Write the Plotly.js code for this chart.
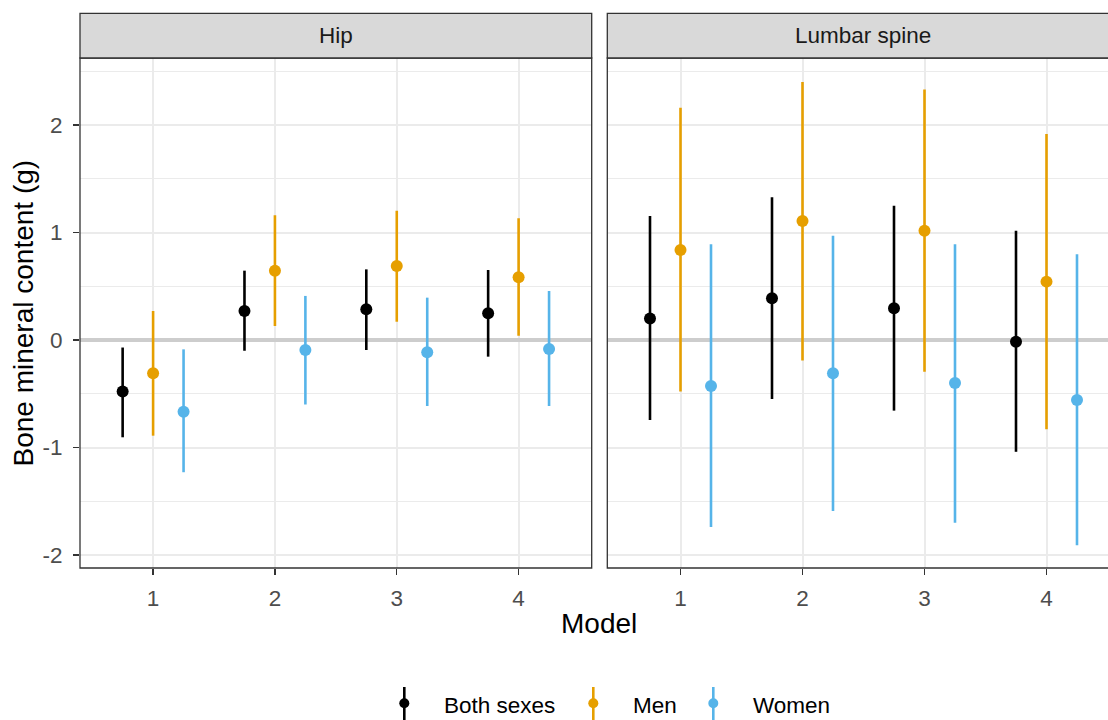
<!DOCTYPE html>
<html><head><meta charset="utf-8">
<script src="https://cdn.plot.ly/plotly-3.0.1.min.js"></script>
<style>html,body{margin:0;padding:0;background:#fff}#chart{width:1108px;height:720px}</style>
</head><body><div id="chart"></div>
<script>
// ---------- data ----------
const models = [1, 2, 3, 4];
const modelLabels = ['1', '2', '3', '4'];
const siteNames = ['Hip', 'Lumbar spine'];
const groupNames = ['Both sexes', 'Men', 'Women'];
const yTicks = [-2, -1, 0, 1, 2];
const yTickLabels = ['-2', '-1', '0', '1', '2'];

// Hip
const hipBothEst  = [-0.48, 0.27, 0.285, 0.248];
const hipBothLo   = [-0.905, -0.10, -0.093, -0.155];
const hipBothHi   = [-0.07, 0.645, 0.657, 0.651];
const hipMenEst   = [-0.31, 0.645, 0.688, 0.583];
const hipMenLo    = [-0.89, 0.13, 0.170, 0.040];
const hipMenHi    = [0.27, 1.16, 1.203, 1.132];
const hipWomenEst = [-0.667, -0.093, -0.115, -0.084];
const hipWomenLo  = [-1.23, -0.60, -0.614, -0.614];
const hipWomenHi  = [-0.087, 0.41, 0.394, 0.456];

// Lumbar spine
const lsBothEst  = [0.20, 0.388, 0.295, -0.016];
const lsBothLo   = [-0.744, -0.549, -0.657, -1.04];
const lsBothHi   = [1.153, 1.327, 1.25, 1.017];
const lsMenEst   = [0.837, 1.107, 1.017, 0.543];
const lsMenLo    = [-0.48, -0.19, -0.295, -0.83];
const lsMenHi    = [2.16, 2.40, 2.33, 1.916];
const lsWomenEst = [-0.428, -0.31, -0.40, -0.558];
const lsWomenLo  = [-1.74, -1.59, -1.70, -1.91];
const lsWomenHi  = [0.89, 0.97, 0.89, 0.797];

// ---------- styling ----------
const colors = ['#000000', '#E69F00', '#56B4E9'];
const dodge = [-0.25, 0, 0.25];
const FONT = 'Liberation Sans, Arial, Helvetica, sans-serif';

const W = 1108, H = 720, ML = 80, MR = 0, MT = 58, MB = 152;
const PW = W - ML - MR, PH = H - MT - MB;
const px = v => (v - ML) / PW;          // pixel -> paper (x)
const py = v => (H - MB - v) / PH;      // pixel -> paper (y)

const leftDomain = [0, 511.7 / PW];
const rightDomain = [527.3 / PW, 1];
const xRangeLeft = [0.4, 4.6];
const xRangeRight = [0.4, 0.4 + (W - ML - 527.3) / 122];
const yRange = [(H - MB - 340) / -107.5, (340 - MT) / 107.5];

const siteData = [
  [[hipBothEst, hipBothLo, hipBothHi], [hipMenEst, hipMenLo, hipMenHi], [hipWomenEst, hipWomenLo, hipWomenHi]],
  [[lsBothEst, lsBothLo, lsBothHi], [lsMenEst, lsMenLo, lsMenHi], [lsWomenEst, lsWomenLo, lsWomenHi]]
];

const traces = [];
siteData.forEach((groups, s) => {
  groups.forEach(([est, lo, hi], g) => {
    traces.push({
      type: 'scatter', mode: 'markers',
      name: groupNames[g], showlegend: false,
      xaxis: s === 0 ? 'x' : 'x2', yaxis: s === 0 ? 'y' : 'y2',
      x: models.map(m => m + dodge[g]),
      y: est,
      marker: {color: colors[g], size: 12},
      error_y: {
        type: 'data', symmetric: false,
        array: hi.map((h, i) => h - est[i]),
        arrayminus: lo.map((l, i) => est[i] - l),
        color: colors[g], thickness: 2.6, width: 0
      },
      hoverinfo: 'skip'
    });
  });
});

const xBase = {
  tickvals: models, ticktext: modelLabels,
  ticks: 'outside', ticklen: 6, tickwidth: 1.3, tickcolor: '#333333',
  tickfont: {family: FONT, size: 22.5, color: '#4D4D4D'},
  showgrid: true, gridcolor: '#EBEBEB', gridwidth: 2,
  zeroline: false, showline: false, fixedrange: true, ticklabelstandoff: 4
};
const yBase = {
  range: yRange, tickvals: yTicks, ticktext: yTickLabels,
  ticks: 'outside', ticklen: 6, tickwidth: 1.3, tickcolor: '#333333',
  tickfont: {family: FONT, size: 22.5, color: '#4D4D4D'},
  showgrid: true, gridcolor: '#EBEBEB', gridwidth: 2,
  minor: {tickvals: [-1.5, -0.5, 0.5, 1.5, 2.5], showgrid: true, gridcolor: '#EBEBEB', gridwidth: 1, ticks: ''},
  zeroline: true, zerolinecolor: '#CDCDCD', zerolinewidth: 4,
  showline: false, fixedrange: true, ticklabelstandoff: 6
};

const shapes = [
  // panel borders
  {type: 'rect', xref: 'x domain', yref: 'y domain', x0: 0, x1: 1, y0: 0, y1: 1,
   line: {color: '#333333', width: 1.3}, fillcolor: 'rgba(0,0,0,0)', layer: 'above'},
  {type: 'rect', xref: 'x2 domain', yref: 'y2 domain', x0: 0, x1: 1.02, y0: 0, y1: 1,
   line: {color: '#333333', width: 1.3}, fillcolor: 'rgba(0,0,0,0)', layer: 'above'},
  // strips
  {type: 'rect', xref: 'x domain', yref: 'paper', x0: 0, x1: 1, y0: 1, y1: py(13.3),
   line: {color: '#333333', width: 1.3}, fillcolor: '#D9D9D9'},
  {type: 'rect', xref: 'x2 domain', yref: 'paper', x0: 0, x1: 1.02, y0: 1, y1: py(13.3),
   line: {color: '#333333', width: 1.3}, fillcolor: '#D9D9D9'}
];

const annotations = [
  {text: siteNames[0], xref: 'paper', yref: 'paper', x: px(335.8), y: py(36), xanchor: 'center', yanchor: 'middle',
   showarrow: false, font: {family: FONT, size: 22.5, color: '#1A1A1A'}},
  {text: siteNames[1], xref: 'paper', yref: 'paper', x: px(862.5), y: py(36), xanchor: 'center', yanchor: 'middle',
   showarrow: false, font: {family: FONT, size: 22.5, color: '#1A1A1A'}},
  {text: 'Model', xref: 'paper', yref: 'paper', x: px(599), y: py(623.5), xanchor: 'center', yanchor: 'middle',
   showarrow: false, font: {family: FONT, size: 28, color: '#000000'}},
  {text: 'Bone mineral content (g)', xref: 'paper', yref: 'paper', x: px(23), y: py(313.5), xanchor: 'center', yanchor: 'middle',
   textangle: -90, showarrow: false, font: {family: FONT, size: 28, color: '#000000'}}
];

// legend (drawn manually to show point-range glyphs)
const legGlyphX = [404.3, 593.3, 713.3];
const legTextX = [443, 631.7, 751.7];
groupNames.forEach((name, g) => {
  shapes.push({type: 'line', xref: 'paper', yref: 'paper', x0: px(legGlyphX[g]), x1: px(legGlyphX[g]),
    y0: py(687), y1: py(724), line: {color: colors[g], width: 2.6}});
  shapes.push({type: 'circle', xref: 'paper', yref: 'paper', xsizemode: 'pixel', ysizemode: 'pixel',
    xanchor: px(legGlyphX[g]), yanchor: py(703.3), x0: -5, x1: 5, y0: -5, y1: 5,
    line: {width: 0}, fillcolor: colors[g]});
  annotations.push({text: name, xref: 'paper', yref: 'paper', x: px(legTextX[g]), y: py(705.5),
    xanchor: 'left', yanchor: 'middle', showarrow: false, borderpad: 0,
    font: {family: FONT, size: 22.5, color: '#000000'}});
});

const layout = {
  width: W, height: H,
  margin: {l: ML, r: MR, t: MT, b: MB, pad: 0},
  paper_bgcolor: '#FFFFFF', plot_bgcolor: '#FFFFFF',
  showlegend: false,
  xaxis: Object.assign({}, xBase, {domain: leftDomain, range: xRangeLeft, anchor: 'y'}),
  xaxis2: Object.assign({}, xBase, {domain: rightDomain, range: xRangeRight, anchor: 'y2'}),
  yaxis: Object.assign({}, yBase, {domain: [0, 1], anchor: 'x'}),
  yaxis2: Object.assign({}, yBase, {domain: [0, 1], anchor: 'x2', showticklabels: false, ticks: ''}),
  shapes: shapes,
  annotations: annotations,
  font: {family: FONT}
};

Plotly.newPlot('chart', traces, layout, {displayModeBar: false, staticPlot: true});
</script>
</body></html>
